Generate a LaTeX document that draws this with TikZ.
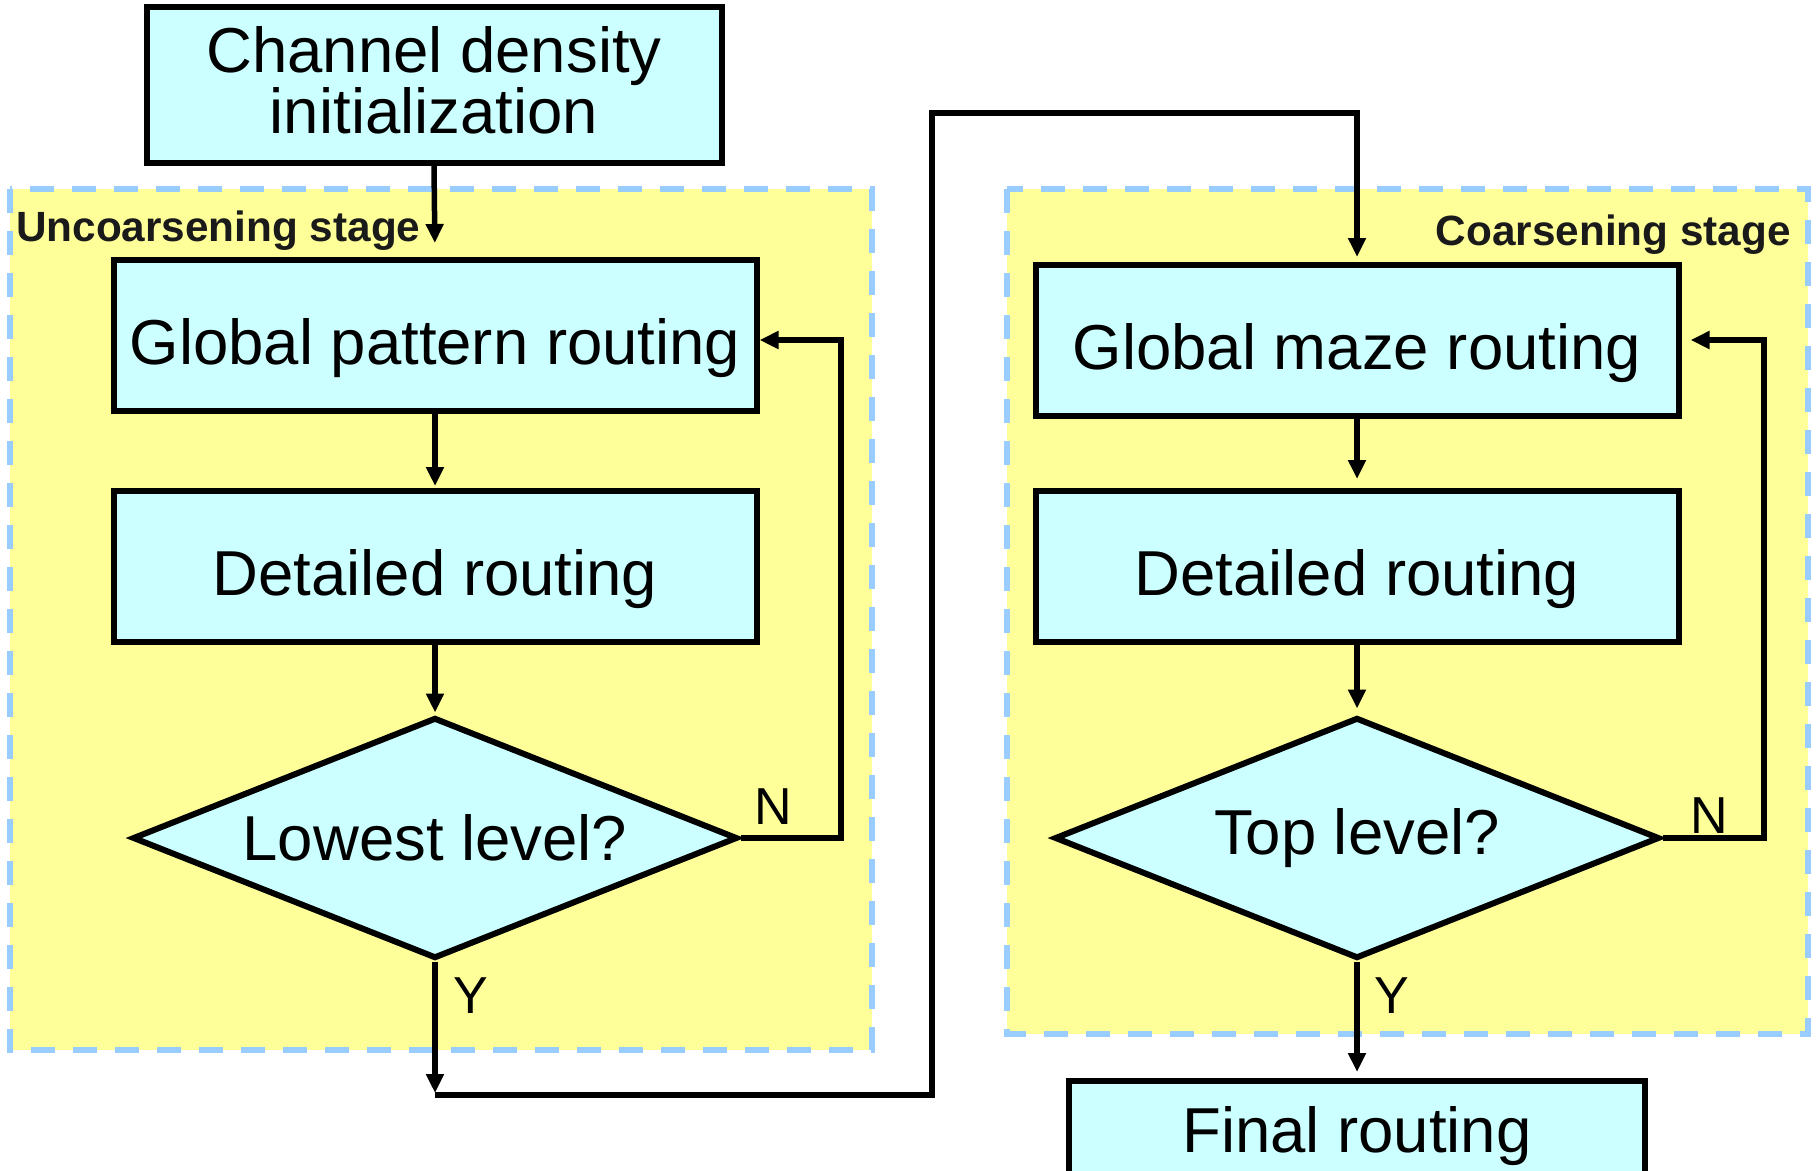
\documentclass[tikz,border=0pt]{standalone}
\usepackage{fontspec}
\setmainfont{Liberation Sans}
\usetikzlibrary{arrows.meta,shapes.geometric}
\definecolor{boxfill}{HTML}{CCFFFF}
\definecolor{stagefill}{HTML}{FFFF99}
\definecolor{stageline}{HTML}{99CCFF}
\definecolor{stagetext}{HTML}{1A1A1A}
\tikzset{
  procbox/.style={draw=black, line width=6pt, fill=boxfill, inner sep=0pt,
    minimum width=643pt, minimum height=151pt, align=center,
    text height=57pt, text depth=0pt,
    font=\fontsize{63.5}{61}\selectfont},
  decbox/.style={draw=black, line width=6pt, fill=boxfill, diamond, inner sep=0pt,
    shape aspect=2.5, minimum width=605pt, minimum height=241pt,
    font=\fontsize{63.5}{61}\selectfont},
  stagebox/.style={draw=stageline, fill=stagefill, line width=6.5pt,
    dash pattern=on 24pt off 18pt},
  stagelabel/.style={text=stagetext, inner sep=0pt, font=\fontsize{42.3}{44}\bfseries\selectfont},
  flow/.style={draw=black, line width=5.5pt, -{Triangle[length=19pt,width=17pt]}},
  yn/.style={inner sep=0pt, font=\fontsize{52}{52}\selectfont}
}
\begin{document}
\begin{tikzpicture}[x=1pt, y=-1pt]
\useasboundingbox (0,0) rectangle (1820,1170);
\clip (0,0) rectangle (1820,1170);
\fill[white] (0,0) rectangle (1820,1170);

% stage frames
\draw[stagebox] (10,189) rectangle (872,1050);
\draw[stagebox] (1007,189) rectangle (1808,1034);
\node[stagelabel, anchor=west] (ulabel) at (16,231) {Uncoarsening stage};
\node[stagelabel, anchor=east] (clabel) at (1791,235) {Coarsening stage};

% process steps
\node[procbox, minimum width=575pt, minimum height=156pt, text height=, text depth=10pt] (ch) at (434,85) {Channel density\\initialization};
\node[procbox] (gp) at (435,335.5) {Global pattern routing};
\node[procbox] (dl) at (435,566.5) {Detailed routing};
\node[decbox] (ld) at (435,838) {Lowest level?};

\node[procbox] (gm) at (1357,340.5) {Global maze routing};
\node[procbox] (dr) at (1357,566.5) {Detailed routing};
\node[decbox] (rd) at (1357,838) {Top level?};
\node[procbox, minimum width=576pt, minimum height=110pt, text height=32pt] (fr) at (1357,1136) {Final routing};

% route points
\coordinate (ydrop) at (435,1095);
\coordinate (jr) at (932,1095);
\coordinate (jtop) at (932,113);
\coordinate (lloop) at (841,340);
\coordinate (rloop) at (1764,340);

% left column
\draw[flow, shorten >=14pt] (ch.south) -- (gp.north);
\draw[flow, shorten >=2pt] (gp.south) -- (dl.north);
\draw[flow, shorten >=2pt] (dl.south) -- (ld.north);
\draw[flow] (ld.east) -| (lloop) -- (gp.east |- lloop);
\draw[flow, shorten >=2pt] (ld.south) -- (ydrop);
\draw[flow, shorten >=5pt] (ydrop) -- (jr) -- (jtop) -| (gm.north);

% right column
\draw[flow, shorten >=9pt] (gm.south) -- (dr.north);
\draw[flow, shorten >=6pt] (dr.south) -- (rd.north);
\draw[flow, shorten >=9pt] (rd.east) -| (rloop) -- (gm.east |- rloop);
\draw[flow, shorten >=6pt] (rd.south) -- (fr.north);

% branch labels
\node[yn] (nl) at (773,807) {N};
\node[yn] (yl) at (471,996) {Y};
\node[yn] (nr) at (1709,816) {N};
\node[yn] (yr) at (1392,996) {Y};
\end{tikzpicture}
\end{document}
